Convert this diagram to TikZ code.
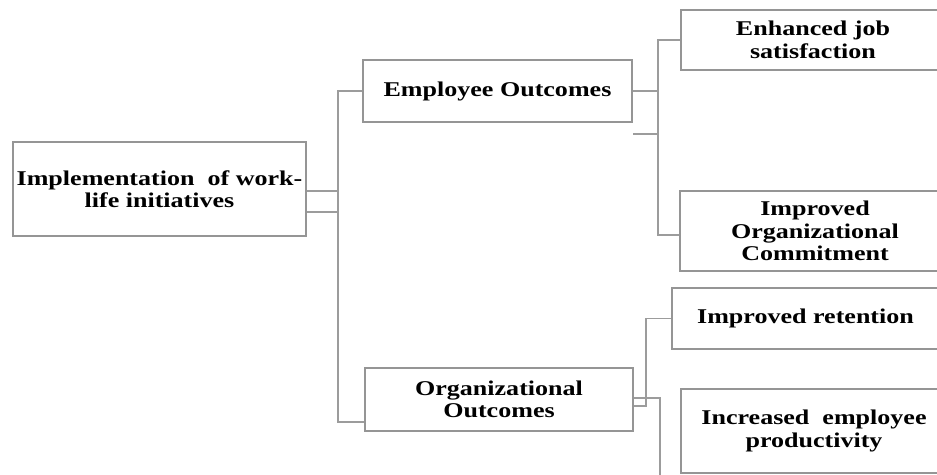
\documentclass[tikz,border=0pt]{standalone}
\usepackage{fontspec}
\setmainfont{Liberation Serif}[FakeStretch=1.24]
\definecolor{boxgray}{HTML}{959595}
\definecolor{linkgray}{HTML}{9C9C9C}
\begin{document}
\begin{tikzpicture}[x=1pt,y=-1pt,
  box/.style={draw=boxgray, line width=2.2pt, fill=white, inner sep=0pt,
    align=center, font=\bfseries\fontsize{21}{22.5}\selectfont},
  link/.style={draw=linkgray, line width=1.9pt}]
\useasboundingbox (0,0) rectangle (937,474);
\clip (0,0) rectangle (937,474);

% boxes
\node[box, minimum width=293pt, minimum height=94pt] (root) at (159.5,189)
  {Implementation~ of work-\\life initiatives};
\node[box, minimum width=269pt, minimum height=62pt] (emp) at (497.5,91)
  {Employee Outcomes};
\node[box, minimum width=268pt, minimum height=63pt] (org) at (499,399.5)
  {Organizational\\Outcomes};
\node[box, minimum width=264pt, minimum height=60pt] (ejs) at (813,40)
  {Enhanced job\\satisfaction};
\node[box, minimum width=270pt, minimum height=80pt] (ioc) at (815,231)
  {Improved\\Organizational\\Commitment};
\node[box, minimum width=267pt, minimum height=61pt] (ir) at (805.5,318.5)
  {Improved retention};
\node[box, minimum width=266pt, minimum height=84pt] (iep) at (814,431)
  {Increased~ employee\\productivity};

% trunk from the root box
\coordinate (trunktop) at (338,91);
\coordinate (trunkbot) at (338,422);
\draw[link] ([yshift=-2pt]root.east) -- ([yshift=-2pt]root.east -| trunktop);
\draw[link] ([yshift=-23pt]root.east) -- ([yshift=-23pt]root.east -| trunktop);
\draw[link] (emp.west) -- (trunktop) -- (trunkbot) -- (trunkbot -| org.west);

% employee outcomes branch
\coordinate (ebus) at (658,91);
\draw[link] (emp.east) -- (ebus);
\draw[link] (ejs.west) -| (ebus) |- ([yshift=-4pt]ioc.west);
\draw[link] ([yshift=-43pt]emp.east) -- ++(26,0);

% organizational outcomes branch
\coordinate (offpage) at (660,480);
\draw[link] ([yshift=1.5pt]org.east) -| (offpage);
\draw[link] ([yshift=-6.5pt]org.east) -- ++(12,0) |- (ir.west);
\end{tikzpicture}
\end{document}
